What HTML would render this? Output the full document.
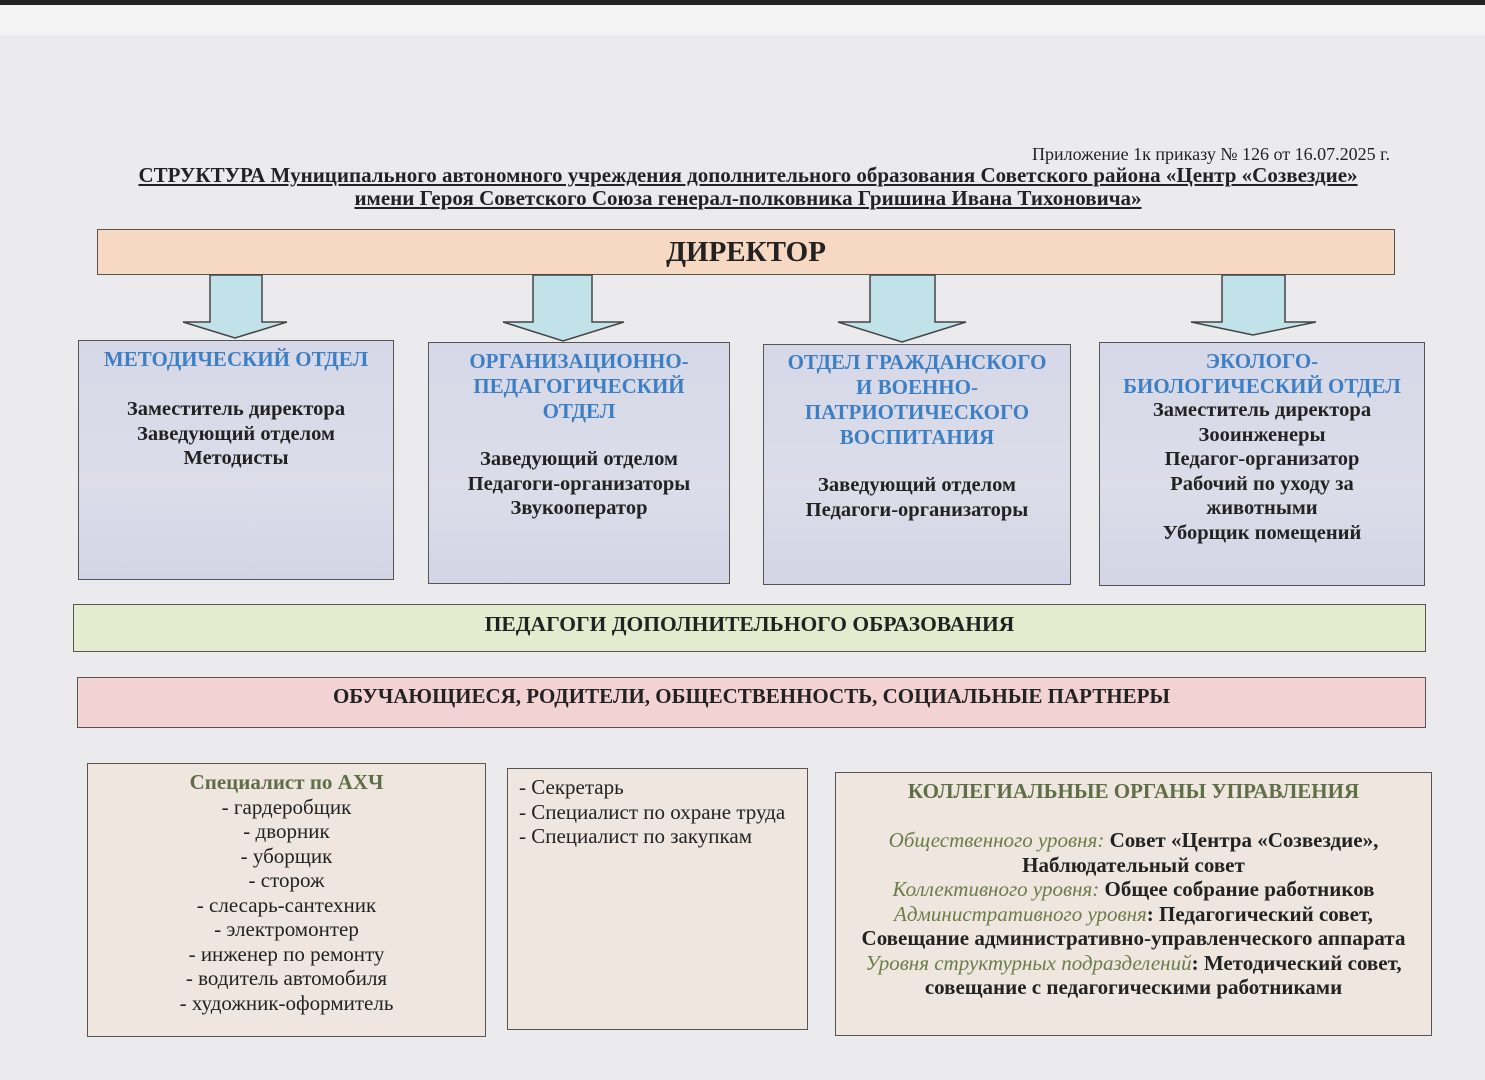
<!DOCTYPE html>
<html><head><meta charset="utf-8">
<style>
body{margin:0;width:1485px;height:1080px;background:#ebebed;position:relative;overflow:hidden;font-family:"Liberation Serif","Noto Serif CJK SC",serif;color:#222}
.a{position:absolute;box-sizing:border-box}
.box{border:1.5px solid #555}
.t{position:absolute;text-align:center;font-weight:bold;white-space:nowrap}
.blue{color:#3d7fc4;font-size:21px;line-height:25px}
.body{font-size:20.5px;line-height:24.5px}
.dept{background:linear-gradient(180deg,#d6d8e8,#dcdde9 60%,#d3d5e6)}
.low{background:#efe6df}
i{font-weight:normal;color:#6a7d48}
</style></head><body>
<div class="a" style="left:0;top:0;width:1485px;height:5px;background:#222"></div>
<div class="a" style="left:0;top:5px;width:1485px;height:30px;background:#f3f3f3"></div>

<div class="t" style="left:800px;width:590px;text-align:right;top:144px;font-weight:normal;font-size:18px">Приложение 1к приказу № 126 от 16.07.2025 г.</div>
<div class="t" style="left:48px;width:1400px;top:164px;font-size:21px;line-height:23px;text-decoration:underline">СТРУКТУРА Муниципального автономного учреждения дополнительного образования Советского района «Центр «Созвездие»<br>имени Героя Советского Союза генерал-полковника Гришина Ивана Тихоновича»</div>

<div class="a box" style="left:97px;top:229px;width:1298px;height:46px;background:#f6d8c3"></div>
<div class="t" style="left:97px;width:1298px;top:235px;font-size:29px;line-height:34px">ДИРЕКТОР</div>

<svg class="a" style="left:0;top:0" width="1485" height="1080">
<g fill="#c0e2e8" stroke="#444" stroke-width="1.5">
<polygon points="210,275 262,275 262,322 287,322 235,338 183,322 210,322"/>
<polygon points="533,275 592,275 592,322 624,322 563,341 503,322 533,322"/>
<polygon points="870,275 935,275 935,322 966,322 902,342 838,322 870,322"/>
<polygon points="1222,275 1285,275 1285,322 1316,322 1253,335 1191,322 1222,322"/>
</g></svg>

<div class="a box dept" style="left:78px;top:340px;width:316px;height:240px"></div>
<div class="t blue" style="left:78px;width:316px;top:347px">МЕТОДИЧЕСКИЙ ОТДЕЛ</div>
<div class="t body" style="left:78px;width:316px;top:397px">Заместитель директора<br>Заведующий отделом<br>Методисты</div>

<div class="a box dept" style="left:428px;top:342px;width:302px;height:242px"></div>
<div class="t blue" style="left:428px;width:302px;top:349px">ОРГАНИЗАЦИОННО-<br>ПЕДАГОГИЧЕСКИЙ<br>ОТДЕЛ</div>
<div class="t body" style="left:428px;width:302px;top:447px">Заведующий отделом<br>Педагоги-организаторы<br>Звукооператор</div>

<div class="a box dept" style="left:763px;top:344px;width:308px;height:241px"></div>
<div class="t blue" style="left:763px;width:308px;top:350px">ОТДЕЛ ГРАЖДАНСКОГО<br>И ВОЕННО-<br>ПАТРИОТИЧЕСКОГО<br>ВОСПИТАНИЯ</div>
<div class="t body" style="left:763px;width:308px;top:473px">Заведующий отделом<br>Педагоги-организаторы</div>

<div class="a box dept" style="left:1099px;top:342px;width:326px;height:244px"></div>
<div class="t blue" style="left:1099px;width:326px;top:349px">ЭКОЛОГО-<br>БИОЛОГИЧЕСКИЙ ОТДЕЛ</div>
<div class="t body" style="left:1099px;width:326px;top:398px">Заместитель директора<br>Зооинженеры<br>Педагог-организатор<br>Рабочий по уходу за<br>животными<br>Уборщик помещений</div>

<div class="a box" style="left:73px;top:604px;width:1353px;height:48px;background:#e5ebce"></div>
<div class="t" style="left:73px;width:1353px;top:612px;font-size:21.5px;line-height:25px">ПЕДАГОГИ ДОПОЛНИТЕЛЬНОГО ОБРАЗОВАНИЯ</div>

<div class="a box" style="left:77px;top:677px;width:1349px;height:51px;background:#f2d2d3"></div>
<div class="t" style="left:77px;width:1349px;top:684px;font-size:21px;line-height:25px">ОБУЧАЮЩИЕСЯ, РОДИТЕЛИ, ОБЩЕСТВЕННОСТЬ, СОЦИАЛЬНЫЕ ПАРТНЕРЫ</div>

<div class="a box low" style="left:87px;top:763px;width:399px;height:274px"></div>
<div class="t" style="left:87px;width:399px;top:770px;font-size:21px;line-height:24.5px;font-weight:normal"><b style="color:#5e6e46">Специалист по АХЧ</b><br>- гардеробщик<br>- дворник<br>- уборщик<br>- сторож<br>- слесарь-сантехник<br>- электромонтер<br>- инженер по ремонту<br>- водитель автомобиля<br>- художник-оформитель</div>

<div class="a box low" style="left:507px;top:768px;width:301px;height:262px"></div>
<div class="t" style="left:519px;top:775px;text-align:left;font-size:21px;line-height:24.5px;font-weight:normal">- Секретарь<br>- Специалист по охране труда<br>- Специалист по закупкам</div>

<div class="a box low" style="left:835px;top:772px;width:597px;height:264px"></div>
<div class="t" style="left:835px;width:597px;top:779px;font-size:21px;line-height:25px;color:#5e6e46">КОЛЛЕГИАЛЬНЫЕ ОРГАНЫ УПРАВЛЕНИЯ</div>
<div class="t" style="left:835px;width:597px;top:828px;font-size:21px;line-height:24.5px"><i>Общественного уровня:</i> Совет «Центра «Созвездие»,<br>Наблюдательный совет<br><i>Коллективного уровня:</i> Общее собрание работников<br><i>Административного уровня</i>: Педагогический совет,<br>Совещание административно-управленческого аппарата<br><i>Уровня структурных подразделений</i>: Методический совет,<br>совещание с педагогическими работниками</div>
</body></html>
